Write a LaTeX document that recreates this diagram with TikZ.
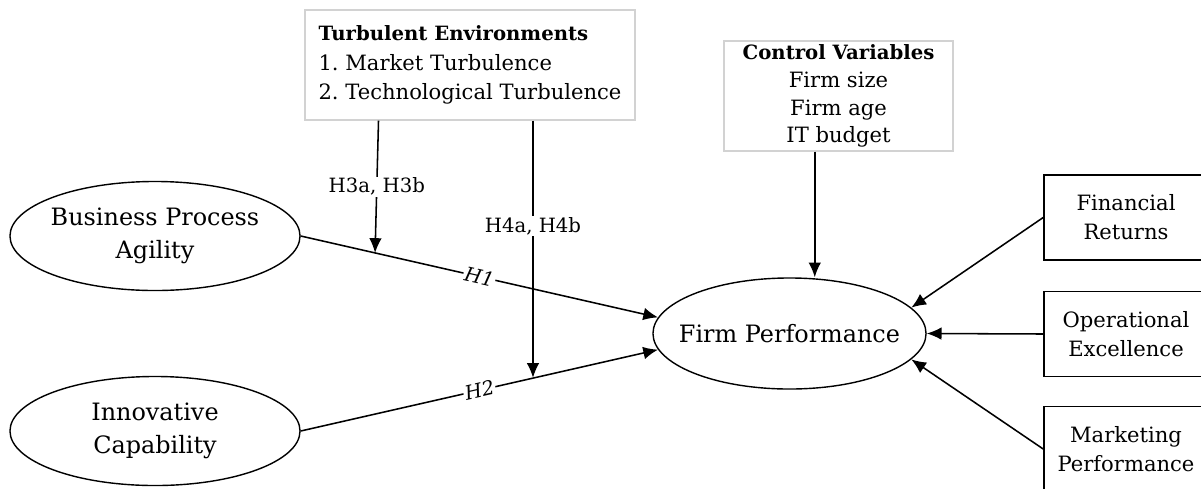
\documentclass[tikz,border=0pt]{standalone}
\usepackage{fontspec}
\setmainfont{DejaVu Serif}
\usetikzlibrary{arrows.meta,calc,shapes.geometric}
\tikzset{
  construct/.style={draw, ellipse, line width=1pt, inner xsep=-0.1cm, minimum width=7.25cm, minimum height=2.725cm, align=center, font=\fontsize{17}{23}\selectfont},
  infobox/.style={draw=gray!35, line width=1pt, minimum height=2.75cm},
  measure/.style={draw, line width=1.1pt, minimum width=4.1cm, minimum height=2.125cm, align=center, font=\fontsize{15}{20.5}\selectfont},
  hyp/.style={-{Latex[length=10.5pt,width=9pt]}, line width=1.1pt},
  hlabel/.style={fill=white, inner sep=1pt, font=\fontsize{14}{16}\selectfont},
}
\begin{document}
\begin{tikzpicture}[x=0.025cm, y=-0.025cm]
\useasboundingbox (0,0) rectangle (1201,488);
% constructs
\node [construct] (bpa) at (155,236) {Business Process\\Agility};
\node [construct] (ic) at (155,431) {Innovative\\Capability};
\node [construct, inner xsep=-0.35cm, minimum width=6.825cm, minimum height=2.775cm] (fp) at (789.5,333.5) {Firm Performance};

% moderators and controls
\node [infobox, minimum width=8.25cm, align=left, font=\fontsize{15}{21}\selectfont\frenchspacing] (turb) at (470,65)
  {{\fontsize{14}{21}\selectfont\bfseries Turbulent Environments}\\1. Market Turbulence\\2. Technological Turbulence};
\node [infobox, inner ysep=0pt, minimum width=5.725cm, align=center, font=\fontsize{15}{19.8}\selectfont] (ctrl) at (838.5,96)
  {{\fontsize{14}{19.8}\selectfont\bfseries Control Variables}\\Firm size\\Firm age\\IT budget};

% performance dimensions
\node [measure] (fin) at (1126,217.5) {Financial\\Returns};
\node [measure] (ops) at (1126,334) {Operational\\Excellence};
\node [measure] (mkt) at (1126,449) {Marketing\\Performance};

% main effects
\draw [hyp] (bpa.east) -- node [hlabel, sloped] {\textit{H1}} (fp.173);
\draw [hyp] (ic.east) -- node [hlabel, sloped] {\textit{H2}} (fp.187);

% moderation
\path (bpa.east) -- (fp.173) coordinate [pos=0.208] (h3end);
\path (ic.east) -- (fp.187) coordinate [pos=0.654] (h4end);
\coordinate (h3top) at ($(turb.south west)!0.224!(turb.south east)$);
\coordinate (h4top) at ($(turb.south west)!0.69!(turb.south east)$);
\draw [hyp] (h3top) -- node [hlabel] {H3a, H3b} (h3end);
\draw [hyp] (h4top) -- node [hlabel, pos=0.41] {H4a, H4b} (h4top |- h4end);

% controls and dimensions
\coordinate (ctrlout) at ($(ctrl.south west)!0.397!(ctrl.south east)$);
\draw [hyp] (ctrlout) -- (ctrlout |- fp.north);
\draw [hyp] (fin.west) -- (fp.12);
\draw [hyp] (ops.west) -- (fp.east);
\draw [hyp] (mkt.west) -- (fp.-12);
\end{tikzpicture}
\end{document}
